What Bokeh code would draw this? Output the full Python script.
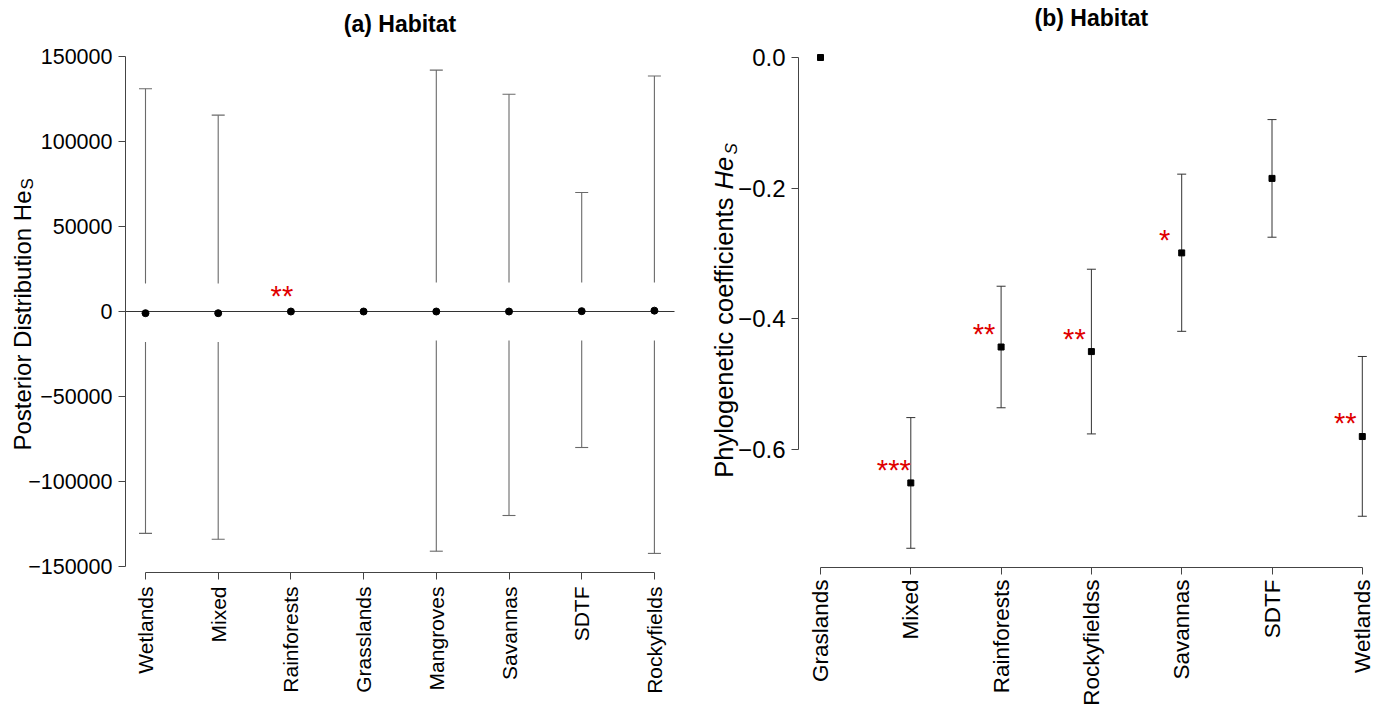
import math
from bokeh.plotting import figure
from bokeh.models import Range1d, FixedTicker, Label, LinearAxis
from bokeh.layouts import row
from bokeh.embed import file_html
from bokeh.resources import INLINE
from bokeh.core.properties import value

# ---------------- Panel (a) data ----------------
a_categories = ["Wetlands", "Mixed", "Rainforests", "Grasslands",
                "Mangroves", "Savannas", "SDTF", "Rockyfields"]
a_mean = [-1000, -1000, 0, 0, 0, 0, 200, 500]
a_upper = [131000, 115500, None, None, 142000, 127800, 70000, 138500]
a_lower = [-130500, -134000, None, None, -141000, -120000, -80000, -142300]
a_upper_start = [16500, 16500, None, None, 17000, 17000, 17000, 17000]
a_lower_start = [-18000, -18000, None, None, -17000, -17000, -17000, -17000]
a_stars = ["", "", "**", "", "", "", "", ""]
a_yticks = [-150000, -100000, -50000, 0, 50000, 100000, 150000]

# ---------------- Panel (b) data ----------------
b_categories = ["Graslands", "Mixed", "Rainforests", "Rockyfieldss",
                "Savannas", "SDTF", "Wetlands"]
b_mean = [0.0, -0.651, -0.443, -0.450, -0.299, -0.185, -0.580]
b_upper = [None, -0.551, -0.350, -0.324, -0.1785, -0.095, -0.4575]
b_lower = [None, -0.751, -0.536, -0.576, -0.419, -0.275, -0.702]
b_stars = ["", "***", "**", "**", "*", "", "**"]
b_yticks = [-0.6, -0.4, -0.2, 0.0]

FONT = "Liberation Sans"
AXIS_COL = "#444444"
STAR_COL = "#e00000"
H = 705


def fmt(v, nd=0):
    s = f"{abs(v):.{nd}f}"
    return ("\u2212" + s) if v < 0 else s


def make_panel(width, px0, ppu_x, py0, ppu_y):
    """px0: pixel of x=1 ; ppu_x: pixels per x unit ; py0: pixel of y=0 ; ppu_y: pixels per y unit"""
    xr = Range1d(1 - px0 / ppu_x, 1 + (width - px0) / ppu_x)
    yr = Range1d((py0 - H) / ppu_y, py0 / ppu_y)
    p = figure(width=width, height=H, x_range=xr, y_range=yr, output_backend="svg",
               toolbar_location=None, title=None, x_axis_type=None, y_axis_type=None,
               min_border=0)
    p.min_border_left = p.min_border_right = p.min_border_top = p.min_border_bottom = 0
    p.outline_line_color = None
    p.frame_align = False
    fx = lambda px: 1 + (px - px0) / ppu_x
    fy = lambda py: (py0 - py) / ppu_y
    return p, fx, fy


def add_axes(p, xloc, yloc, xticks, xlabels, yticks, ylabels, xsize, ysize, xb, yb, xstand):
    xa = LinearAxis(fixed_location=xloc)
    ya = LinearAxis(fixed_location=yloc)
    for ax in (xa, ya):
        ax.axis_line_color = AXIS_COL
        ax.major_tick_line_color = AXIS_COL
        ax.minor_tick_line_color = None
        ax.major_tick_out = 7
        ax.major_tick_in = 0
        ax.major_label_text_font = FONT
        ax.major_label_text_color = "black"
    xa.ticker = FixedTicker(ticks=xticks)
    xa.major_label_overrides = dict(zip(xticks, xlabels))
    xa.major_label_orientation = math.pi / 2
    xa.major_label_text_font_size = xsize
    xa.major_label_standoff = xstand
    xa.bounds = xb
    ya.ticker = FixedTicker(ticks=yticks)
    ya.major_label_overrides = dict(zip(yticks, ylabels))
    ya.major_label_text_font_size = ysize
    ya.major_label_standoff = 6
    ya.bounds = yb
    p.add_layout(xa, "below")
    p.add_layout(ya, "left")


# ================= Panel (a) =================
pa, fxa, fya = make_panel(700, 145, 72.7, 311, 85 / 50000)
ax_x = list(range(1, len(a_categories) + 1))
x_left_a, x_right_a = fxa(125), fxa(674)
add_axes(pa, fya(572), x_left_a, ax_x, a_categories, a_yticks, [fmt(v) for v in a_yticks],
         "21px", "21.5px", (1, 8), (-150000, 150000), 7)

pa.segment(x0=[x_left_a], x1=[x_right_a], y0=[0], y1=[0], line_color="#333333", line_width=1)

idx = [i for i in range(len(a_categories)) if a_upper[i] is not None]
xs = [ax_x[i] for i in idx]
EB_A = "#6a6a6a"
pa.segment(x0=xs, x1=xs, y0=[a_upper_start[i] for i in idx], y1=[a_upper[i] for i in idx],
           line_color=EB_A, line_width=1.1)
pa.segment(x0=xs, x1=xs, y0=[a_lower_start[i] for i in idx], y1=[a_lower[i] for i in idx],
           line_color=EB_A, line_width=1.1)
pa.scatter(x=xs, y=[a_upper[i] for i in idx], marker="dash", size=13, line_color=EB_A, line_width=1.1)
pa.scatter(x=xs, y=[a_lower[i] for i in idx], marker="dash", size=13, line_color=EB_A, line_width=1.1)
pa.scatter(x=ax_x, y=a_mean, marker="circle", size=7, fill_color="black", line_color="black")

si = [i for i in range(len(a_stars)) if a_stars[i]]
pa.text(x=[ax_x[i] for i in si], y=[a_mean[i] + 9000 for i in si], text=[a_stars[i] for i in si],
        x_offset=-9, text_align="center", text_baseline="alphabetic",
        text_color=STAR_COL, text_font=value(FONT), text_font_size="29px")

pa.add_layout(Label(x=(x_left_a + x_right_a) / 2, y=fya(23), text="(a) Habitat", text_align="center",
                    text_baseline="alphabetic", text_font=FONT, text_font_size="23px",
                    text_font_style="bold", text_color="black"))
pa.add_layout(Label(x=fxa(22), y=fya(190), angle=math.pi / 2,
                    text="Posterior Distribution He", text_align="right",
                    text_baseline="alphabetic", text_font=FONT, text_font_size="24px",
                    text_color="black"))
pa.add_layout(Label(x=fxa(27), y=fya(189), angle=math.pi / 2,
                    text="S", text_align="left", text_baseline="alphabetic",
                    text_font=FONT, text_font_size="17px", text_color="black"))

# ================= Panel (b) =================
pb, fxb, fyb = make_panel(676, 120, 90.3, 57, 653.5)
bx = list(range(1, len(b_categories) + 1))
x_left_b = fxb(98)
add_axes(pb, fyb(567), x_left_b, bx, b_categories, b_yticks, [fmt(v, 1) for v in b_yticks],
         "22.5px", "24px", (1, 7), (-0.6, 0.0), 5)

jdx = [i for i in range(len(b_categories)) if b_upper[i] is not None]
bxs = [bx[i] for i in jdx]
EB_B = "#333333"
pb.segment(x0=bxs, x1=bxs, y0=[b_lower[i] for i in jdx], y1=[b_upper[i] for i in jdx],
           line_color=EB_B, line_width=1)
pb.scatter(x=bxs, y=[b_upper[i] for i in jdx], marker="dash", size=9, line_color=EB_B, line_width=1)
pb.scatter(x=bxs, y=[b_lower[i] for i in jdx], marker="dash", size=9, line_color=EB_B, line_width=1)
pb.scatter(x=bx, y=b_mean, marker="square", size=6, fill_color="black", line_color="black")

sj = [i for i in range(len(b_stars)) if b_stars[i]]
pb.text(x=[bx[i] for i in sj], y=[b_mean[i] + 0.020 for i in sj], text=[b_stars[i] for i in sj],
        x_offset=-17, text_align="center", text_baseline="alphabetic",
        text_color=STAR_COL, text_font=value(FONT), text_font_size="29px")

pb.add_layout(Label(x=4.0, y=fyb(17), text="(b) Habitat", text_align="center",
                    text_baseline="alphabetic", text_font=FONT, text_font_size="23px",
                    text_font_style="bold", text_color="black"))
pb.add_layout(Label(x=fxb(23), y=fyb(190), angle=math.pi / 2,
                    text="Phylogenetic coefficients ", text_align="right",
                    text_baseline="alphabetic", text_font=FONT, text_font_size="25.5px",
                    text_color="black"))
pb.add_layout(Label(x=fxb(23), y=fyb(189), angle=math.pi / 2,
                    text="He", text_align="left", text_baseline="alphabetic",
                    text_font=FONT, text_font_size="25.5px", text_font_style="italic",
                    text_color="black"))
pb.add_layout(Label(x=fxb(31), y=fyb(154), angle=math.pi / 2,
                    text="S", text_align="left", text_baseline="alphabetic",
                    text_font=FONT, text_font_size="17px", text_font_style="italic",
                    text_color="black"))

layout = row(pa, pb)
open("out.html", "w").write(file_html(layout, INLINE))
